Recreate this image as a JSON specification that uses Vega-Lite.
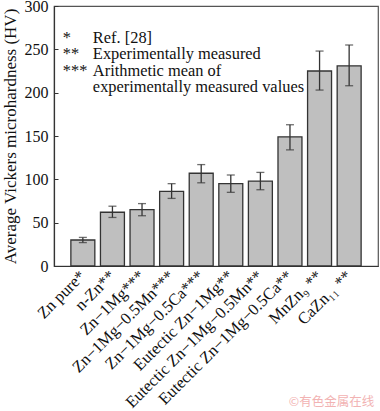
{
  "$schema": "https://vega.github.io/schema/vega-lite/v6.json",
  "width": 324,
  "height": 260,
  "autosize": {"type": "none"},
  "padding": {"left": 54, "top": 6, "right": 2, "bottom": 145},
  "config": {
    "font": "Liberation Serif",
    "view": {"stroke": "#555", "strokeWidth": 1.2}
  },
  "datasets": {
    "bars": [
      {"alloy": "Zn pure*", "hv": 30, "low": 27, "high": 33},
      {"alloy": "n-Zn**", "hv": 62, "low": 56, "high": 69},
      {"alloy": "Zn−1Mg***", "hv": 65, "low": 58, "high": 72},
      {"alloy": "Zn−1Mg−0.5Mn***", "hv": 86, "low": 78, "high": 95},
      {"alloy": "Zn−1Mg−0.5Ca***", "hv": 107, "low": 96, "high": 117},
      {"alloy": "Eutectic Zn−1Mg**", "hv": 95, "low": 85, "high": 105},
      {"alloy": "Eutectic Zn−1Mg−0.5Mn**", "hv": 98, "low": 88, "high": 108},
      {"alloy": "Eutectic Zn−1Mg−0.5Ca**", "hv": 149, "low": 134, "high": 163},
      {"alloy": "MnZn₉ **", "hv": 225, "low": 203, "high": 248},
      {"alloy": "CaZn₁₁ **", "hv": 231, "low": 208, "high": 255}
    ],
    "notes": [
      {"sym": "*", "txt": "Ref. [28]", "y": 257.6},
      {"sym": "**", "txt": "Experimentally measured", "y": 238.6},
      {"sym": "***", "txt": "Arithmetic mean of", "y": 219.6},
      {"sym": "", "txt": "experimentally measured values", "y": 200.6}
    ],
    "wm": [
      {"txt": "©有色金属在线", "y": -156.5}
    ]
  },
  "layer": [
    {
      "data": {"name": "bars"},
      "mark": {"type": "bar", "fill": "#bfbfbf", "stroke": "#333333", "strokeWidth": 1.3},
      "encoding": {
        "x": {
          "field": "alloy", "type": "nominal", "sort": null,
          "scale": {"paddingInner": 0.19, "paddingOuter": 0.57},
          "axis": {
            "title": null, "ticks": false, "labelAngle": -45,
            "labelAlign": "right", "labelBaseline": "middle",
            "labelFontSize": 16.5, "labelColor": "#111", "labelPadding": 7,
            "domainColor": "#333", "domainWidth": 1.2, "labelLimit": 400
          }
        },
        "y": {
          "field": "hv", "type": "quantitative",
          "scale": {"domain": [0, 300], "nice": false},
          "axis": {
            "title": "Average Vickers microhardness (HV)",
            "values": [0, 25, 50, 75, 100, 125, 150, 175, 200, 225, 250, 275, 300],
            "grid": false, "tickSize": -4, "labelPadding": 10,
            "labelFontSize": 16, "labelColor": "#111",
            "titleFontSize": 17, "titleFontWeight": "normal", "titleColor": "#111",
            "titlePadding": 5,
            "domainColor": "#333", "domainWidth": 1.2, "tickColor": "#333"
          }
        }
      }
    },
    {
      "data": {"name": "bars"},
      "mark": {"type": "rule", "color": "#333", "strokeWidth": 1.3},
      "encoding": {
        "x": {"field": "alloy", "type": "nominal", "sort": null},
        "y": {"field": "low", "type": "quantitative"},
        "y2": {"field": "high"}
      }
    },
    {
      "data": {"name": "bars"},
      "mark": {"type": "tick", "color": "#333", "size": 8, "thickness": 1.3},
      "encoding": {
        "x": {"field": "alloy", "type": "nominal", "sort": null},
        "y": {"field": "low", "type": "quantitative"}
      }
    },
    {
      "data": {"name": "bars"},
      "mark": {"type": "tick", "color": "#333", "size": 8, "thickness": 1.3},
      "encoding": {
        "x": {"field": "alloy", "type": "nominal", "sort": null},
        "y": {"field": "high", "type": "quantitative"}
      }
    },
    {
      "data": {"name": "notes"},
      "mark": {"type": "text", "align": "left", "baseline": "alphabetic", "fontSize": 16.4, "color": "#111", "dx": -8},
      "encoding": {
        "x": {"datum": "Zn pure*", "bandPosition": 0},
        "y": {"field": "y", "type": "quantitative"},
        "text": {"field": "sym"}
      }
    },
    {
      "data": {"name": "notes"},
      "mark": {"type": "text", "align": "left", "baseline": "alphabetic", "fontSize": 16.4, "color": "#111", "dx": 22},
      "encoding": {
        "x": {"datum": "Zn pure*", "bandPosition": 0},
        "y": {"field": "y", "type": "quantitative"},
        "text": {"field": "txt"}
      }
    },
    {
      "data": {"name": "wm"},
      "mark": {"type": "text", "align": "right", "baseline": "middle", "fontSize": 12.5, "color": "#f2b3b3", "font": "Noto Sans CJK SC", "dx": 13},
      "encoding": {
        "x": {"datum": "CaZn₁₁ **", "bandPosition": 1},
        "y": {"field": "y", "type": "quantitative"},
        "text": {"field": "txt"}
      }
    }
  ]
}
